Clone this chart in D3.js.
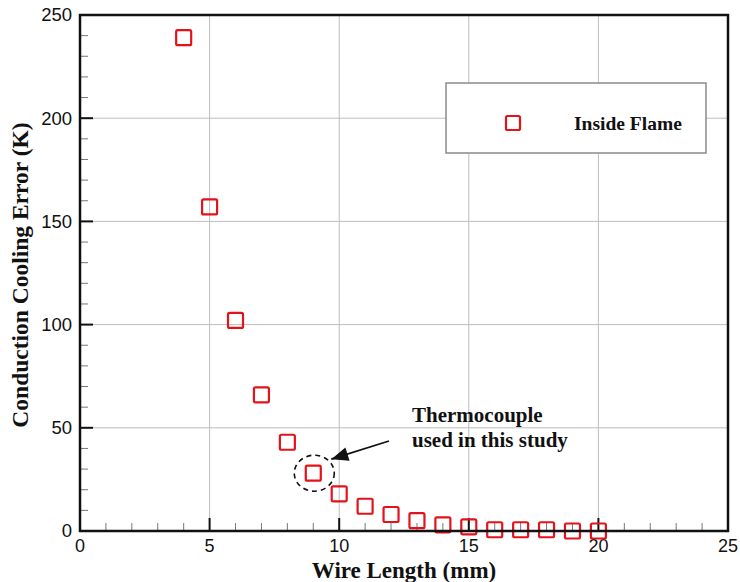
<!DOCTYPE html>
<html>
<head>
<meta charset="utf-8">
<script src="https://cdn.jsdelivr.net/npm/d3@7"></script>
<style>
  html, body { margin: 0; padding: 0; background: #fff; }
  svg { display: block; }
</style>
</head>
<body>
<div id="chart"></div>
<script>
// Wire length (mm) and conduction cooling error (K)
const wireLength = [4, 5, 6, 7, 8, 9, 10, 11, 12, 13, 14, 15, 16, 17, 18, 19, 20];
const coolingError = [239, 157, 102, 66, 43, 28, 18, 12, 8, 5, 3, 2, 0.6, 0.6, 0.6, 0, 0];
const xTicks = [0, 5, 10, 15, 20, 25];
const yTicks = [0, 50, 100, 150, 200, 250];
const seriesName = 'Inside Flame';
const highlightX = 9; // thermocouple used in the study
const noteLines = ['Thermocouple', 'used in this study'];

const W = 740, H = 582;
const margin = { top: 15, right: 12, bottom: 51, left: 80 };
const red = '#e3121b';
const serif = '"Liberation Serif", "Times New Roman", serif';
const sans = '"Liberation Sans", Arial, sans-serif';

const svg = d3.select('#chart').append('svg')
    .attr('width', W)
    .attr('height', H);

const x = d3.scaleLinear().domain([0, 25]).range([margin.left, W - margin.right]);
const y = d3.scaleLinear().domain([0, 250]).range([H - margin.bottom, margin.top]);

// Grid lines at the major ticks
svg.append('g')
    .selectAll('line')
    .data(xTicks.slice(1, -1))
    .join('line')
    .attr('x1', d => x(d)).attr('x2', d => x(d))
    .attr('y1', y(0)).attr('y2', y(250))
    .attr('stroke', '#bdbdbd').attr('stroke-width', 1);

svg.append('g')
    .selectAll('line')
    .data(yTicks.slice(1, -1))
    .join('line')
    .attr('y1', d => y(d)).attr('y2', d => y(d))
    .attr('x1', x(0)).attr('x2', x(25))
    .attr('stroke', '#bdbdbd').attr('stroke-width', 1);

// Minor ticks (inward)
svg.append('g')
    .selectAll('line')
    .data(d3.range(1, 25).filter(v => v % 5 !== 0))
    .join('line')
    .attr('x1', d => x(d)).attr('x2', d => x(d))
    .attr('y1', y(0)).attr('y2', y(0) - 8)
    .attr('stroke', '#777').attr('stroke-width', 1);

svg.append('g')
    .selectAll('line')
    .data(d3.range(10, 250, 10).filter(v => v % 50 !== 0))
    .join('line')
    .attr('y1', d => y(d)).attr('y2', d => y(d))
    .attr('x1', x(0)).attr('x2', x(0) + 8)
    .attr('stroke', '#777').attr('stroke-width', 1);

// Major ticks (inward)
svg.append('g')
    .selectAll('line')
    .data(xTicks.slice(1, -1))
    .join('line')
    .attr('x1', d => x(d)).attr('x2', d => x(d))
    .attr('y1', y(0)).attr('y2', y(0) - 13)
    .attr('stroke', '#111').attr('stroke-width', 2);

svg.append('g')
    .selectAll('line')
    .data(yTicks.slice(1, -1))
    .join('line')
    .attr('y1', d => y(d)).attr('y2', d => y(d))
    .attr('x1', x(0)).attr('x2', x(0) + 13)
    .attr('stroke', '#111').attr('stroke-width', 2);

// Tick labels
svg.append('g')
    .selectAll('text')
    .data(xTicks)
    .join('text')
    .attr('x', d => x(d))
    .attr('y', y(0) + 21)
    .attr('text-anchor', 'middle')
    .attr('font-family', sans)
    .attr('font-size', '18px')
    .attr('fill', '#111')
    .text(d => d);

svg.append('g')
    .selectAll('text')
    .data(yTicks)
    .join('text')
    .attr('x', x(0) - 8)
    .attr('y', d => y(d))
    .attr('dy', '0.35em')
    .attr('text-anchor', 'end')
    .attr('font-family', sans)
    .attr('font-size', '18.5px')
    .attr('fill', '#111')
    .text(d => d);

// Legend
const legend = svg.append('g');
legend.append('rect')
    .attr('x', 446).attr('y', 83)
    .attr('width', 260).attr('height', 70)
    .attr('fill', '#fff')
    .attr('stroke', '#8a8a8a').attr('stroke-width', 1.5);
legend.append('rect')
    .attr('x', 513 - 7).attr('y', 123 - 7)
    .attr('width', 14).attr('height', 14)
    .attr('rx', 1.5)
    .attr('fill', 'none')
    .attr('stroke', red).attr('stroke-width', 2.2);
legend.append('text')
    .attr('x', 574).attr('y', 130)
    .attr('font-family', serif)
    .attr('font-weight', 'bold')
    .attr('font-size', '19.5px')
    .attr('fill', '#111')
    .text(seriesName);

// Data markers
const pts = wireLength.map((d, i) => ({ x: d, y: coolingError[i] }));
svg.append('g')
    .selectAll('rect')
    .data(pts)
    .join('rect')
    .attr('x', d => x(d.x) - 7.5)
    .attr('y', d => y(d.y) - 7.5)
    .attr('width', 15).attr('height', 15)
    .attr('rx', 1.5)
    .attr('fill', 'none')
    .attr('stroke', red).attr('stroke-width', 2.2);

// Frame
svg.append('rect')
    .attr('x', x(0)).attr('y', y(250))
    .attr('width', x(25) - x(0)).attr('height', y(0) - y(250))
    .attr('fill', 'none')
    .attr('stroke', '#111').attr('stroke-width', 2.5);

// Annotation: dashed circle, arrow and note
const hi = pts.find(d => d.x === highlightX);
svg.append('ellipse')
    .attr('cx', x(hi.x) + 1).attr('cy', y(hi.y))
    .attr('rx', 20).attr('ry', 18)
    .attr('fill', 'none')
    .attr('stroke', '#111').attr('stroke-width', 1.6)
    .attr('stroke-dasharray', '5,4');

const tipX = x(hi.x) + 18, tipY = y(hi.y) - 14;
svg.append('line')
    .attr('x1', 389).attr('y1', 441)
    .attr('x2', tipX).attr('y2', tipY)
    .attr('stroke', '#111').attr('stroke-width', 1.8);
svg.append('path')
    .attr('d', () => {
        const ang = Math.atan2(tipY - 441, tipX - 389);
        const len = 17, half = 7;
        const bx = tipX - len * Math.cos(ang), by = tipY - len * Math.sin(ang);
        const px = -Math.sin(ang) * half, py = Math.cos(ang) * half;
        return `M${tipX},${tipY} L${bx + px},${by + py} L${bx - px},${by - py} Z`;
    })
    .attr('fill', '#111');

svg.append('g')
    .selectAll('text')
    .data(noteLines)
    .join('text')
    .attr('x', 412)
    .attr('y', (d, i) => 422 + i * 25)
    .attr('font-family', serif)
    .attr('font-weight', 'bold')
    .attr('font-size', '21px')
    .attr('fill', '#111')
    .text(d => d);

// Axis titles
svg.append('text')
    .attr('x', (x(0) + x(25)) / 2)
    .attr('y', 578)
    .attr('text-anchor', 'middle')
    .attr('font-family', serif)
    .attr('font-weight', 'bold')
    .attr('font-size', '23px')
    .attr('fill', '#111')
    .text('Wire Length (mm)');

svg.append('text')
    .attr('transform', `translate(28, 275) rotate(-90)`)
    .attr('text-anchor', 'middle')
    .attr('font-family', serif)
    .attr('font-weight', 'bold')
    .attr('font-size', '23.5px')
    .attr('fill', '#111')
    .text('Conduction Cooling Error (K)');
</script>
</body>
</html>
